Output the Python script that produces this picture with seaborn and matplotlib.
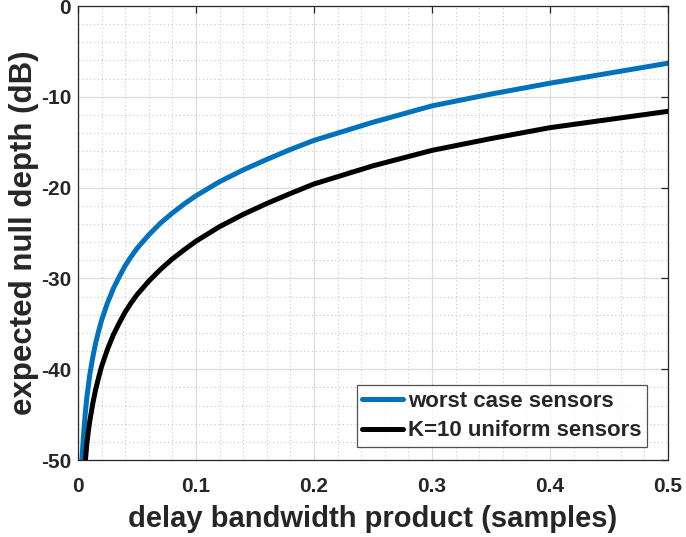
import numpy as np
import pandas as pd
import matplotlib
matplotlib.use("Agg")
import matplotlib.pyplot as plt
import seaborn as sns
from matplotlib.ticker import MultipleLocator

# ---- data ----
x_worst = [0.0033, 0.0045, 0.006, 0.0075, 0.01, 0.0125, 0.015, 0.0175, 0.02, 0.025,
           0.03, 0.035, 0.04, 0.045, 0.05, 0.06, 0.07, 0.08, 0.09, 0.1,
           0.12, 0.14, 0.16, 0.18, 0.2, 0.25, 0.3, 0.35, 0.4, 0.45, 0.5]
y_worst = [-50.0, -47.6, -45.1, -43.1, -40.6, -38.7, -37.1, -35.8, -34.6, -32.7,
           -31.1, -29.8, -28.6, -27.6, -26.7, -25.2, -23.9, -22.8, -21.8, -20.9,
           -19.35, -18.05, -16.9, -15.8, -14.8, -12.8, -11.0, -9.7, -8.5, -7.4, -6.3]

x_unif = [0.0063, 0.0075, 0.009, 0.01, 0.0125, 0.015, 0.0175, 0.02, 0.025,
          0.03, 0.035, 0.04, 0.045, 0.05, 0.06, 0.07, 0.08, 0.09, 0.1,
          0.12, 0.14, 0.16, 0.18, 0.2, 0.25, 0.3, 0.35, 0.4, 0.45, 0.5]
y_unif = [-50.0, -48.2, -46.6, -45.7, -43.8, -42.2, -40.9, -39.7, -37.8,
          -36.2, -34.9, -33.7, -32.7, -31.8, -30.3, -29.0, -27.85, -26.85, -25.9,
          -24.3, -22.95, -21.75, -20.65, -19.6, -17.6, -15.9, -14.6, -13.4, -12.5, -11.6]

series_names = ["worst case sensors", "K=10 uniform sensors"]
series_colors = ["#0072BD", "#000000"]

x_ticks = [0, 0.1, 0.2, 0.3, 0.4, 0.5]
x_tick_labels = ["0", "0.1", "0.2", "0.3", "0.4", "0.5"]
y_ticks = [-50, -40, -30, -20, -10, 0]
y_tick_labels = ["-50", "-40", "-30", "-20", "-10", "0"]

df = pd.concat([
    pd.DataFrame({"x": x_worst, "y": y_worst, "series": series_names[0]}),
    pd.DataFrame({"x": x_unif, "y": y_unif, "series": series_names[1]}),
], ignore_index=True)

sns.set_style("white")
plt.rcParams["font.family"] = ["Liberation Sans", "DejaVu Sans"]
plt.rcParams["font.weight"] = "bold"

fig = plt.figure(figsize=(6.86, 5.37), dpi=100)
ax = fig.add_axes([78/686, 77/537, 590/686, 454/537])

sns.lineplot(data=df, x="x", y="y", hue="series", hue_order=series_names,
             palette=series_colors, linewidth=3.6, ax=ax, sort=True,
             estimator=None, legend=True)

ax.set_xlim(0, 0.5)
ax.set_ylim(-50, 0)
ax.set_xticks(x_ticks)
ax.set_xticklabels(x_tick_labels)
ax.set_yticks(y_ticks)
ax.set_yticklabels(y_tick_labels)
ax.xaxis.set_minor_locator(MultipleLocator(0.02))
ax.yaxis.set_minor_locator(MultipleLocator(2))

ax.grid(which="major", color="#dcdcdc", linewidth=0.9, linestyle="-")
ax.grid(which="minor", color="#c8c8c8", linewidth=0.8, linestyle=(0, (1, 2.5)))
ax.set_axisbelow(True)

textc = "#262626"
for s in ax.spines.values():
    s.set_visible(True)
    s.set_color(textc)
    s.set_linewidth(0.9)

ax.tick_params(which="major", direction="in", length=5, width=0.9,
               top=True, right=True, labelsize=15, colors=textc)
ax.tick_params(axis="x", which="major", pad=12)
ax.tick_params(axis="y", which="major", pad=5)
ax.tick_params(which="minor", length=0, top=True, right=True)
for lab in ax.get_xticklabels() + ax.get_yticklabels():
    lab.set_fontweight("bold")

ax.set_xlabel("delay bandwidth product (samples)", fontsize=21,
              fontweight="bold", color=textc, labelpad=7)
ax.set_ylabel("expected null depth (dB)", fontsize=22.5,
              fontweight="bold", color=textc, labelpad=1)

leg = ax.legend(loc="lower right", bbox_to_anchor=(0.9644, 0.0286),
                borderaxespad=0, frameon=True, fancybox=False,
                prop={"weight": "bold", "size": 16}, handlelength=1.85,
                handletextpad=0.2, borderpad=0.25, labelspacing=0.4)
leg.get_frame().set_edgecolor("#262626")
leg.get_frame().set_linewidth(0.9)
for line in leg.get_lines():
    line.set_linewidth(3.6)

fig.savefig("out.png", dpi=100)
